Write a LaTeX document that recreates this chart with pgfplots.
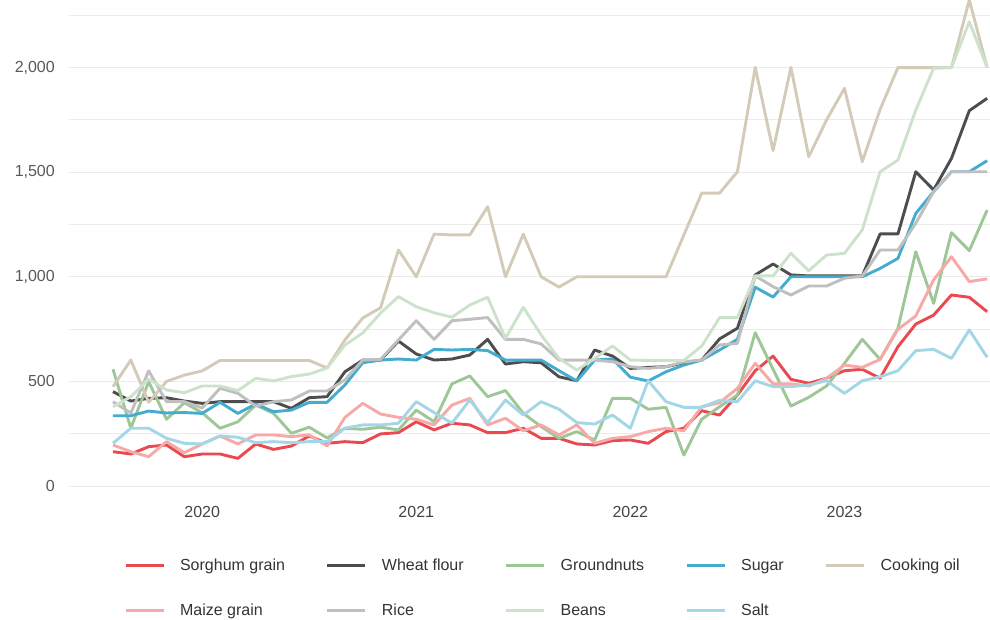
\documentclass[border=0pt]{standalone}
\usepackage{fontspec}
\setmainfont{Liberation Sans}
\usepackage{pgfplots}
\pgfplotsset{compat=1.18}
\usepackage{pgfplotstable}

\definecolor{sorghum}{HTML}{E9494F}
\definecolor{wheat}{HTML}{4D4D4F}
\definecolor{ground}{HTML}{9DC796}
\definecolor{sugar}{HTML}{44ACCE}
\definecolor{oil}{HTML}{D3CBB8}
\definecolor{maize}{HTML}{F7A9A8}
\definecolor{rice}{HTML}{BFBFC0}
\definecolor{beans}{HTML}{CDE2CA}
\definecolor{salt}{HTML}{A3D7E5}
\definecolor{gridc}{HTML}{EBEBEB}
\definecolor{ytxt}{HTML}{595959}
\definecolor{xtxt}{HTML}{444444}
\definecolor{legtxt}{HTML}{333333}

% month index 0 = Aug 2019 ... 49 = Sep 2023
\pgfplotstableread{
m  sorghum wheat ground sugar oil  maize rice beans salt
0  164  451  558  336  475  196  403  379  204
1  153  406  276  336  602  164  349  427  276
2  188  419  499  358  400  140  550  511  276
3  196  422  319  349  500  212  403  459  228
4  140  406  398  351  530  159  403  446  204
5  153  395  350  347  550  201  373  478  201
6  153  403  276  400  600  239  467  478  239
7  132  403  307  347  600  201  443  456  233
8  201  403  387  392  600  244  382  515  207
9  175  403  347  355  600  244  403  502  212
10 191  371  252  363  600  236  411  523  207
11 239  422  281  400  600  244  454  535  212
12 204  427  230  400  564  191  454  564  212
13 212  546  276  483  698  328  507  674  276
14 207  602  271  589  803  395  602  731  292
15 249  602  281  602  852  344  605  827  292
16 255  693  268  607  1128 328  698  905  300
17 307  631  363  602  1000 319  790  857  403
18 268  602  307  653  1204 292  701  828  351
19 300  607  488  650  1200 387  790  807  300
20 292  626  526  653  1200 419  797  865  411
21 255  701  427  647  1335 292  805  902  303
22 255  583  456  602  1000 324  701  706  411
23 276  594  347  602  1204 264  701  854  339
24 228  589  284  602  1000 292  679  722  403
25 228  522  228  551  951  244  602  610  367
26 201  503  260  502  1000 292  602  554  303
27 196  650  220  602  1000 204  602  610  296
28 217  621  419  607  1000 228  594  669  339
29 220  562  419  520  1000 236  570  602  276
30 204  567  367  502  1000 260  562  600  503
31 260  570  376  546  1000 276  570  600  403
32 276  589  148  578  1200 264  594  600  376
33 360  602  319  602  1400 379  602  669  376
34 339  703  379  650  1400 398  674  805  410
35 435  754  435  701  1502 467  682  805  403
36 551  1009 733  950  2001 586  1004 1004 503
37 621  1061 558  903  1603 488  953  1004 475
38 510  1009 382  1000 2001 488  913  1112 475
39 491  1004 424  1000 1574 478  956  1029 483
40 515  1004 478  1000 1750 515  956  1104 503
41 551  1004 586  1000 1901 578  993  1112 443
42 558  1004 701  1000 1550 567  1004 1224 503
43 515  1205 605  1040 1800 605  1128 1502 522
44 666  1205 754  1088 2000 749  1128 1558 551
45 774  1502 1120 1303 2000 813  1256 1797 647
46 817  1415 873  1407 2000 985  1407 1997 653
47 913  1566 1211 1502 2000 1096 1502 2000 610
48 902  1794 1125 1502 2323 977  1502 2219 746
49 833  1853 1319 1555 2000 990  1502 2000 615
}\prices

\begin{document}
\begin{tikzpicture}
\begin{axis}[
  name=ax,
  scale only axis,
  width=921bp, height=486bp,
  xmin=-2.466, xmax=49.16,
  ymin=0, ymax=2323,
  clip=false,
  axis line style={draw=none},
  major tick length=0pt, minor tick length=0pt,
  xtick={5,17,29,41},
  xticklabels={2020,2021,2022,2023},
  ytick={0,500,...,2000},
  minor ytick={250,750,...,2250},
  ymajorgrids, yminorgrids,
  major grid style={draw=gridc, line width=1bp},
  minor grid style={draw=gridc, line width=1bp},
  tick label style={font=\fontsize{16bp}{19bp}\selectfont},
  /pgf/number format/assume math mode=true,
  /pgf/number format/1000 sep={,},
  scaled y ticks=false,
  yticklabel style={anchor=east, inner sep=0pt, xshift=-14bp, text=ytxt},
  xticklabel style={anchor=north, inner sep=0pt, yshift=-20bp, text=xtxt},
  every axis plot/.append style={line width=2.9bp, line join=round, mark=none},
  legend columns=5,
  legend cell align=left,
  legend image code/.code={\draw[#1] (0bp,0bp) -- (38bp,0bp);},
  legend style={at={(0.0597,-0.146)}, anchor=north west, draw=none, fill=none,
    inner sep=0pt, font=\fontsize{16bp}{19bp}\selectfont, text=legtxt,
    /tikz/every odd column/.append style={column sep=13bp},
    /tikz/every even column/.append style={column sep=39bp},
    /tikz/row sep=28bp},
]
\addplot[sorghum] table[x=m, y=sorghum] {\prices};
\addplot[wheat]   table[x=m, y=wheat]   {\prices};
\addplot[ground]  table[x=m, y=ground]  {\prices};
\addplot[sugar]   table[x=m, y=sugar]   {\prices};
\addplot[oil]     table[x=m, y=oil]     {\prices};
\addplot[maize]   table[x=m, y=maize]   {\prices};
\addplot[rice]    table[x=m, y=rice]    {\prices};
\addplot[beans]   table[x=m, y=beans]   {\prices};
\addplot[salt]    table[x=m, y=salt]    {\prices};
\legend{Sorghum grain, Wheat flour, Groundnuts, Sugar, Cooking oil,
        Maize grain, Rice, Beans, Salt}
\end{axis}
\pgfresetboundingbox
\path[use as bounding box] ([xshift=-69bp,yshift=-134bp]ax.south west) rectangle (ax.north east);
\end{tikzpicture}
\end{document}
